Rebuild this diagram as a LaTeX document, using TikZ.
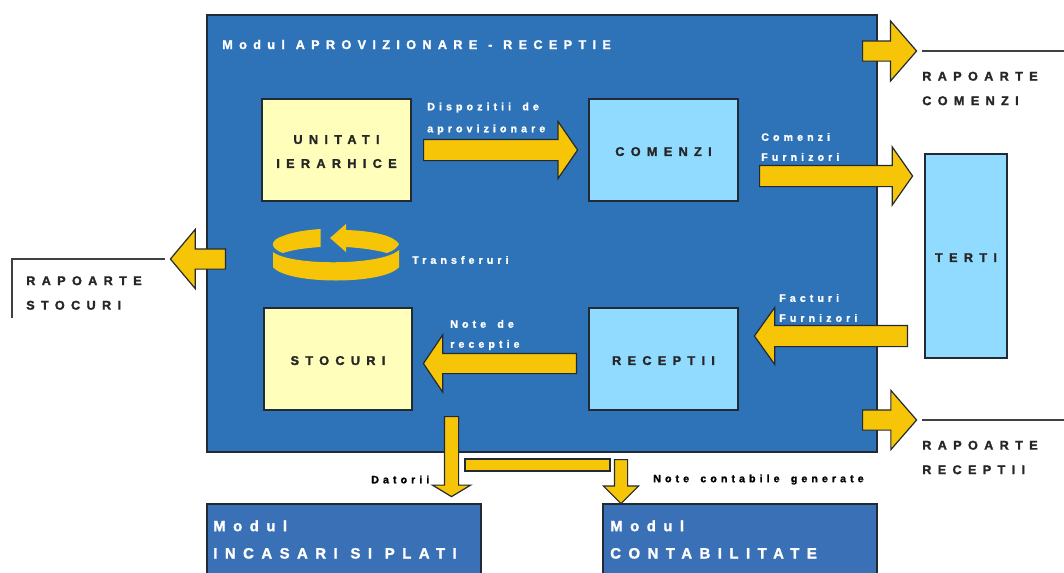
\documentclass[tikz,border=0pt]{standalone}
\usepackage{fontspec}
\usetikzlibrary{shapes.arrows}
\newfontfamily\capsfont[LetterSpace=50,WordSpace=1.1,FakeBold=1.6]{Liberation Sans Bold}
\newfontfamily\notefont[LetterSpace=38,WordSpace=1.6,FakeBold=1.4]{Liberation Sans Bold}
\definecolor{moduleblue}{HTML}{2E72B8}
\definecolor{sideblue}{HTML}{3A70B5}
\definecolor{flowyellow}{HTML}{F7C508}
\definecolor{paleyellow}{HTML}{FFFFBB}
\definecolor{paleblue}{HTML}{90DBFF}
\definecolor{inkline}{HTML}{222A33}
\tikzset{
  block/.style n args={3}{draw=inkline,line width=0.9pt,fill=#3,inner sep=0pt,
    minimum width=#1*0.75pt,minimum height=#2*0.75pt},
  % length, head width, shaft width, tip angle
  flow/.style n args={4}{single arrow,anchor=tail,draw=inkline,line width=0.9pt,fill=flowyellow,inner sep=0pt,
    minimum height=#1*0.75pt,text height=#3*0.75pt,text depth=0pt,text width=0pt,
    single arrow head extend=(#2-#3)*0.375pt,single arrow tip angle=#4},
  title/.style={inner sep=0pt,anchor=west,align=left,text=#1,
    font=\capsfont\fontsize{9.5}{18.4}\selectfont},
  boxtext/.style={inner sep=0pt,align=center,text=#1,yshift=-1.2pt,
    font=\capsfont\fontsize{9.5}{18}\selectfont},
  note/.style={inner sep=0pt,anchor=west,align=left,text=#1,
    font=\notefont\fontsize{8}{15}\selectfont},
  bigtitle/.style={inner sep=0pt,anchor=west,align=left,text=white,
    font=\capsfont\fontsize{11.2}{20.5}\selectfont},
  rule/.style={line width=0.9pt,draw=black!75}
}
\begin{document}
\begin{tikzpicture}[x=0.75pt,y=-0.75pt]
  \clip (0,0) rectangle (1064,572);

  % Main module
  \node[block={670}{437}{moduleblue}] (main) at (542,233.5) {};
  \node[title=white] (maintitle) at (222,44.5) {Modul APROVIZIONARE - RECEPTIE};

  % Inner boxes
  \node[block={149}{102}{paleyellow}] (unitati) at (336.5,150) {};
  \node[block={149}{102}{paleblue}] (comenzi) at (663.5,150) {};
  \node[block={148}{102}{paleyellow}] (stocuri) at (338,359) {};
  \node[block={149}{102}{paleblue}] (receptii) at (663.5,359) {};
  \node[boxtext=black!85] at (unitati) {UNITATI\\IERARHICE};
  \node[boxtext=black!85] at (comenzi) {COMENZI};
  \node[boxtext=black!85] at (stocuri) {STOCURI};
  \node[boxtext=black!85] at (receptii) {RECEPTII};

  % Third parties and the other modules
  \node[block={82}{204}{paleblue}] (terti) at (966,256) {};
  \node[boxtext=black!85] at (terti) {TERTI};
  \node[block={274}{100}{sideblue}] (incasari) at (344,554) {};
  \node[block={274}{100}{sideblue}] (contabil) at (740,554) {};
  \node[bigtitle] (incasaritext) at (213,539.5) {Modul\\INCASARI SI PLATI};
  \node[bigtitle] (contabiltext) at (610,539.5) {Modul\\CONTABILITATE};

  % Report lines
  \coordinate (stocstart) at (165,259);
  \coordinate (stocknee) at (12,259);
  \coordinate (stocend) at (12,318);
  \draw[rule] (stocstart) -- (stocknee) -- (stocend);
  \coordinate (comstart) at (922,51);
  \coordinate (comend) at (1064,51);
  \draw[rule] (comstart) -- (comend);
  \coordinate (recstart) at (922,420);
  \coordinate (recend) at (1064,420);
  \draw[rule] (recstart) -- (recend);

  % Flow arrows
  \node[flow={154}{56}{20}{111}] (dispozarrow) at (423,150) {};
  \node[flow={153}{57}{20}{110}] (furnarrow) at (759,176) {};
  \node[flow={153}{56}{20}{109},rotate=180] (factarrow) at (908,336) {};
  \node[flow={153}{56}{19}{112},rotate=180] (notearrow) at (577,363.5) {};
  \node[flow={55}{58}{19}{100},rotate=180] (stocarrow) at (226,259) {};
  \node[flow={54}{59}{19}{98}] (comarrow) at (862,51) {};
  \node[flow={54}{58}{19}{98}] (recarrow) at (862,420) {};
  \node[flow={80}{37}{13}{118},rotate=-90] (datarrow) at (451.5,416) {};
  \node[flow={44}{34}{12}{90},rotate=-90] (contarrow) at (621,459) {};
  \node[draw=inkline,line width=0.9pt,fill=flowyellow,inner sep=0pt,minimum width=108.75pt,minimum height=9pt] (contbar) at (537.5,465) {};

  % Transfers icon
  \fill[flowyellow] (273,252) .. controls (290,266) and (382,266) .. (399,250)
    -- (399,267) .. controls (385,285) and (287,285) .. (273,267) -- cycle;
  \fill[flowyellow] (320.5,229) -- (320.5,247) .. controls (305,248) and (292,250) .. (283,253)
    .. controls (269,248) and (270,240) .. (283,236) .. controls (293,232) and (306,230) .. (320.5,229) -- cycle;
  \fill[flowyellow] (330,238) -- (346,224) -- (346,230) .. controls (375,231) and (394,236) .. (399,244)
    .. controls (397,248) and (393,251) .. (387,253) .. controls (376,250) and (362,248) .. (346,247)
    -- (346,252) -- cycle;

  % Labels
  \node[note=white] (dispoztext) at (427,118.5) {Dispozitii de\\[1.5pt]aprovizionare};
  \node[note=white] (furntext) at (761,147) {Comenzi\\Furnizori};
  \node[note=white] (transtext) at (412,260) {Transferuri};
  \node[note=white] (facttext) at (779,308) {Facturi\\Furnizori};
  \node[note=white] (notetext) at (450,335) {Note de\\receptie};
  \node[note=black] (dattext) at (371,479.5) {Datorii};
  \node[note=black] (conttext) at (653,479.5) {Note contabile generate};
  \node[title=black!85] (comtext) at (922,88.5) {RAPOARTE\\COMENZI};
  \node[title=black!85] (rectext) at (922,457.5) {RAPOARTE\\RECEPTII};
  \node[title=black!85] (stoctext) at (26,293) {RAPOARTE\\STOCURI};
\end{tikzpicture}
\end{document}
